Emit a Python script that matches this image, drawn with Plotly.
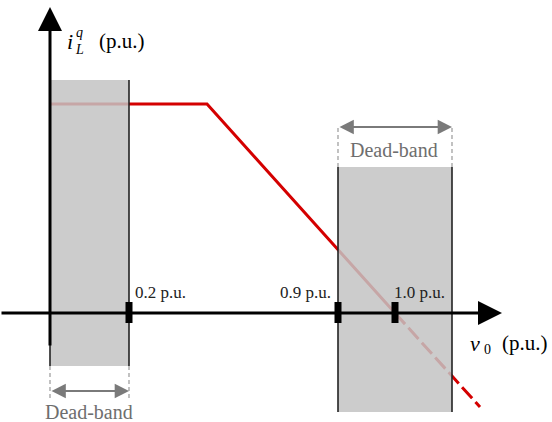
import plotly.graph_objects as go

# Schematic diagram units: origin where the two axes cross (not to scale)
tick_labels = ["0.2 p.u.", "0.9 p.u.", "1.0 p.u."]
tick_pos = [79, 288, 345]

# Reactive-current droop characteristic
curve_x_solid = [0, 157, 345]
curve_y_solid = [209, 209, 0]
curve_x_dash = [345, 430]
curve_y_dash = [0, -94]

# Dead-band regions: (x0, x1, y0, y1)
deadband_left = (0, 79, -53, 233)
deadband_right = (288, 402, -99, 146)

# Axis extents
x_axis = (-50, 452)
y_axis = (-34, 306)

SERIF = "Liberation Serif"
RED = "#d40000"
GREY_TXT = "#6e6e6e"
GREY_ARR = "#7a7a7a"

fig = go.Figure()

# droop curve (drawn first so the dead-band shading mutes it)
fig.add_trace(go.Scatter(x=curve_x_solid, y=curve_y_solid, mode="lines",
                         line=dict(color=RED, width=3), hoverinfo="skip"))
fig.add_trace(go.Scatter(x=curve_x_dash, y=curve_y_dash, mode="lines",
                         line=dict(color=RED, width=3, dash="15px,5px"), hoverinfo="skip"))

# shaded dead-bands with black side edges
for x0, x1, y0, y1 in (deadband_left, deadband_right):
    fig.add_trace(go.Scatter(x=[x0, x1, x1, x0, x0], y=[y0, y0, y1, y1, y0],
                             mode="lines", fill="toself",
                             fillcolor="rgba(195,195,195,0.85)",
                             line=dict(width=0), hoverinfo="skip"))
    fig.add_trace(go.Scatter(x=[x0, x0, None, x1, x1], y=[y0, y1, None, y0, y1],
                             mode="lines", line=dict(color="#222222", width=1.6),
                             hoverinfo="skip"))

# dashed extension lines for the width markers
lx0, lx1, ly0, ly1 = deadband_left
rx0, rx1, ry0, ry1 = deadband_right
ext_left = 34
ext_right = 42
fig.add_trace(go.Scatter(x=[lx0, lx0, None, lx1, lx1],
                         y=[ly0, ly0 - ext_left, None, ly0, ly0 - ext_left],
                         mode="lines", line=dict(color="#999999", width=1.2, dash="4px,3px"),
                         hoverinfo="skip"))
fig.add_trace(go.Scatter(x=[rx0, rx0, None, rx1, rx1],
                         y=[ry1, ry1 + ext_right, None, ry1, ry1 + ext_right],
                         mode="lines", line=dict(color="#999999", width=1.2, dash="4px,3px"),
                         hoverinfo="skip"))

# tick marks on the v0 axis
tx, ty = [], []
for p in tick_pos:
    tx += [p, p, None]
    ty += [-10, 11, None]
fig.add_trace(go.Scatter(x=tx, y=ty, mode="lines",
                         line=dict(color="black", width=7), hoverinfo="skip"))

annotations = []

# axes with arrowheads
annotations.append(dict(x=x_axis[1], y=0, ax=x_axis[0], ay=0, xref="x", yref="y",
                        axref="x", ayref="y", text="", showarrow=True, arrowhead=2,
                        arrowsize=1.6, arrowwidth=3, arrowcolor="black", standoff=0))
annotations.append(dict(x=0, y=y_axis[1], ax=0, ay=y_axis[0], xref="x", yref="y",
                        axref="x", ayref="y", text="", showarrow=True, arrowhead=2,
                        arrowsize=1.6, arrowwidth=3, arrowcolor="black", standoff=0))

# dead-band width arrows
annotations.append(dict(x=lx1, y=ly0 - 25, ax=lx0, ay=ly0 - 25, xref="x", yref="y",
                        axref="x", ayref="y", text="", showarrow=True, arrowhead=2,
                        arrowside="end+start", arrowsize=1.3, arrowwidth=2.2,
                        arrowcolor=GREY_ARR, standoff=0, startstandoff=0))
annotations.append(dict(x=rx1, y=ry1 + 40, ax=rx0, ay=ry1 + 40, xref="x", yref="y",
                        axref="x", ayref="y", text="", showarrow=True, arrowhead=2,
                        arrowside="end+start", arrowsize=1.3, arrowwidth=2.2,
                        arrowcolor=GREY_ARR, standoff=0, startstandoff=0))

def label(x, y, text, size, color="black", xanchor="center"):
    annotations.append(dict(x=x, y=y, xref="x", yref="y", text=text, showarrow=False,
                            xanchor=xanchor, yanchor="middle",
                            font=dict(family=SERIF, size=size, color=color)))

# tick labels
label(83, 21, tick_labels[0], 17, "#222222", "left")
label(283, 21, tick_labels[1], 17, "#222222", "right")
label(342, 21, tick_labels[2], 17, "#222222", "left")

# dead-band captions
label((lx0 + lx1) / 2 - 1, -99, "Dead-band", 20, GREY_TXT)
label((rx0 + rx1) / 2 - 1, 163, "Dead-band", 20, GREY_TXT)

# vertical axis title: i_L^q (p.u.)
label(20, 272, "<i>i</i>", 22)
label(24, 281, "<i>q</i>", 14, xanchor="left")
label(23, 264, "<i>L</i>", 14, xanchor="left")
label(47, 272, "(p.u.)", 21, xanchor="left")

# horizontal axis title: v0 (p.u.)
label(425, -30, "<i>v</i>", 22)
label(432, -36, "0", 14, xanchor="left")
label(450, -30, "(p.u.)", 21, xanchor="left")

fig.update_layout(
    width=552, height=422,
    margin=dict(l=0, r=0, t=0, b=0),
    paper_bgcolor="white", plot_bgcolor="white",
    showlegend=False,
    xaxis=dict(range=[-50, 502], visible=False, fixedrange=True),
    yaxis=dict(range=[-109, 313], visible=False, fixedrange=True),
    annotations=annotations,
)

fig.write_html("out.html")
